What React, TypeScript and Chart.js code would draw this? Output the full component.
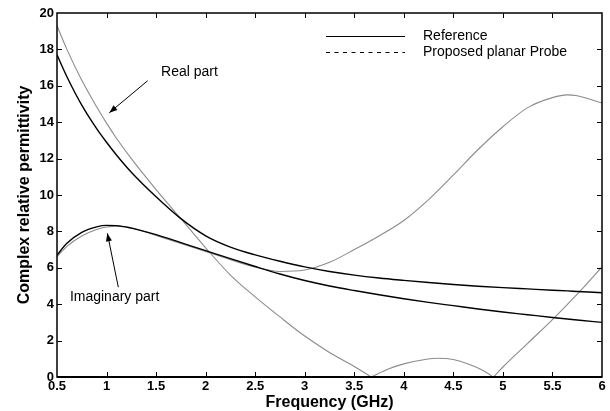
import React, { useEffect, useRef } from "react";
import { Chart, registerables } from "chart.js";

Chart.register(...registerables);

// Frequency grid (GHz) for the smooth curves
const freq = [0.5, 0.6, 0.75, 0.9, 1.0, 1.1, 1.25, 1.5, 1.75, 2.0, 2.25, 2.5, 2.75, 3.0, 3.25, 3.5, 3.75, 4.0, 4.25, 4.5, 4.75, 5.0, 5.25, 5.5, 5.65, 5.75, 6.0];
// Reference (black)
const realRef = [17.7, 16.5, 14.94, 13.65, 12.9, 12.2, 11.25, 9.9, 8.7, 7.76, 7.14, 6.71, 6.36, 6.05, 5.8, 5.6, 5.44, 5.31, 5.19, 5.08, 4.99, 4.91, 4.84, 4.77, 4.73, 4.7, 4.63];
const imagRef = [6.7, 7.35, 7.95, 8.25, 8.33, 8.32, 8.18, 7.82, 7.38, 6.94, 6.5, 6.07, 5.66, 5.3, 5.0, 4.75, 4.52, 4.3, 4.1, 3.92, 3.74, 3.57, 3.42, 3.27, 3.19, 3.13, 3.0];
// Proposed planar probe (grey)
const probeAFreq = [0.5, 0.6, 0.75, 0.9, 1.0, 1.1, 1.25, 1.5, 1.75, 2.0, 2.25, 2.5, 2.75, 3.0, 3.25, 3.5, 3.64, 3.67, 3.7, 3.85, 4.0, 4.2, 4.35, 4.5, 4.65, 4.8, 4.87, 4.9, 4.93, 5.0, 5.25, 5.5, 5.75, 6.0];
const probeA = [19.3, 18.0, 16.3, 14.85, 13.95, 13.12, 12.0, 10.3, 8.7, 7.1, 5.6, 4.4, 3.3, 2.25, 1.35, 0.58, 0.11, 0, 0.08, 0.45, 0.72, 0.95, 1.03, 0.96, 0.72, 0.36, 0.12, 0, 0.15, 0.55, 1.85, 3.15, 4.55, 6.05];
const probeB = [6.6, 7.18, 7.75, 8.1, 8.24, 8.29, 8.2, 7.78, 7.33, 6.9, 6.45, 6.04, 5.8, 5.88, 6.3, 7.0, 7.75, 8.6, 9.75, 11.1, 12.5, 13.75, 14.8, 15.35, 15.5, 15.45, 15.05];

const legendLabels = ["Reference", "Proposed planar Probe"];
const xTitle = "Frequency (GHz)";
const yTitle = "Complex relative permittivity";

// Annotations in data coordinates
const realLabel = { text: "Real part", at: [1.55, 16.74], from: [1.415, 16.28], to: [1.028, 14.52] };
const imagLabel = { text: "Imaginary part", at: [0.63, 4.41], from: [1.119, 4.93], to: [1.008, 7.9] };

const FONT = "Arial, 'Liberation Sans', sans-serif";

const toPts = (xs: number[], ys: number[]) => xs.map((x, i) => ({ x, y: ys[i] }));

const decorPlugin = {
  id: "decor",
  afterDraw(chart: any) {
    const { ctx, chartArea: a, scales } = chart;
    const xs = scales.x;
    const ys = scales.y;
    ctx.save();
    // frame
    ctx.strokeStyle = "#000";
    ctx.lineWidth = 1.5;
    ctx.strokeRect(a.left, a.top, a.right - a.left, a.bottom - a.top);
    ctx.beginPath();
    ctx.lineWidth = 2;
    ctx.moveTo(a.left, a.bottom);
    ctx.lineTo(a.right, a.bottom);
    ctx.stroke();
    // inward ticks on all sides
    ctx.lineWidth = 1;
    const tl = 5;
    ctx.beginPath();
    xs.ticks.forEach((t: any) => {
      const px = Math.round(xs.getPixelForValue(t.value)) + 0.5;
      if (px <= a.left + 2 || px >= a.right - 2) return;
      ctx.moveTo(px, a.bottom);
      ctx.lineTo(px, a.bottom - tl);
      ctx.moveTo(px, a.top);
      ctx.lineTo(px, a.top + tl);
    });
    ys.ticks.forEach((t: any) => {
      const py = Math.round(ys.getPixelForValue(t.value)) + 0.5;
      if (py <= a.top + 2 || py >= a.bottom - 2) return;
      ctx.moveTo(a.left, py);
      ctx.lineTo(a.left + tl, py);
      ctx.moveTo(a.right, py);
      ctx.lineTo(a.right - tl, py);
    });
    ctx.stroke();

    // legend (no box)
    const lx0 = a.right - 276;
    const lx1 = a.right - 197;
    const tx = a.right - 179;
    const rows = [a.top + 23, a.top + 39];
    ctx.font = `14px ${FONT}`;
    ctx.fillStyle = "#000";
    ctx.textBaseline = "middle";
    ctx.textAlign = "left";
    legendLabels.forEach((lab, i) => {
      const y = rows[i] + 0.5;
      ctx.beginPath();
      ctx.lineWidth = 1;
      ctx.setLineDash(i === 0 ? [] : [4, 4.5]);
      ctx.moveTo(lx0, y);
      ctx.lineTo(lx1, y);
      ctx.stroke();
      ctx.setLineDash([]);
      ctx.fillText(lab, tx, rows[i]);
    });

    // annotations with arrows
    const drawArrow = (from: number[], to: number[]) => {
      const x0 = xs.getPixelForValue(from[0]);
      const y0 = ys.getPixelForValue(from[1]);
      const x1 = xs.getPixelForValue(to[0]);
      const y1 = ys.getPixelForValue(to[1]);
      ctx.beginPath();
      ctx.lineWidth = 1;
      ctx.moveTo(x0, y0);
      ctx.lineTo(x1, y1);
      ctx.stroke();
      const ang = Math.atan2(y1 - y0, x1 - x0);
      const L = 8;
      const W = 3;
      ctx.beginPath();
      ctx.moveTo(x1, y1);
      ctx.lineTo(x1 - L * Math.cos(ang) + W * Math.sin(ang), y1 - L * Math.sin(ang) - W * Math.cos(ang));
      ctx.lineTo(x1 - L * Math.cos(ang) - W * Math.sin(ang), y1 - L * Math.sin(ang) + W * Math.cos(ang));
      ctx.closePath();
      ctx.fill();
    };
    [realLabel, imagLabel].forEach((an) => {
      ctx.fillText(an.text, xs.getPixelForValue(an.at[0]), ys.getPixelForValue(an.at[1]));
      drawArrow(an.from, an.to);
    });
    ctx.restore();
  },
};

export default function App() {
  const ref = useRef<HTMLCanvasElement | null>(null);
  useEffect(() => {
    if (!ref.current) return;
    const black = "#000000";
    const grey = "#8c8c8c";
    const fmt = (v: any) => String(Math.round(Number(v) * 100) / 100);
    const chart = new Chart(ref.current, {
      type: "line",
      data: {
        datasets: [
          { label: "Reference real", data: toPts(freq, realRef), borderColor: black, borderWidth: 1.4, pointRadius: 0, cubicInterpolationMode: "monotone", fill: false },
          { label: "Reference imaginary", data: toPts(freq, imagRef), borderColor: black, borderWidth: 1.4, pointRadius: 0, cubicInterpolationMode: "monotone", fill: false },
          { label: "Probe curve A", data: toPts(probeAFreq, probeA), borderColor: grey, borderWidth: 1.1, pointRadius: 0, cubicInterpolationMode: "monotone", fill: false },
          { label: "Probe curve B", data: toPts(freq, probeB), borderColor: grey, borderWidth: 1.1, pointRadius: 0, cubicInterpolationMode: "monotone", fill: false },
        ],
      },
      options: {
        animation: false,
        responsive: false,
        devicePixelRatio: 1,
        layout: { padding: { top: 13, right: 8, left: 0, bottom: 0 } },
        plugins: { legend: { display: false }, tooltip: { enabled: false } },
        scales: {
          x: {
            type: "linear",
            min: 0.5,
            max: 6,
            grid: { display: false, drawTicks: false },
            border: { display: false },
            ticks: { stepSize: 0.5, autoSkip: false, maxRotation: 0, padding: 2, color: "#000", callback: fmt, font: { family: FONT, size: 13, weight: "bold" } },
            title: { display: true, text: xTitle, color: "#000", padding: { top: 0, bottom: 0 }, font: { family: FONT, size: 16, weight: "bold", lineHeight: 1 } },
            afterFit: (s: any) => { s.height = 34; },
          },
          y: {
            type: "linear",
            min: 0,
            max: 20,
            grid: { display: false, drawTicks: false },
            border: { display: false },
            ticks: { stepSize: 2, padding: 3, color: "#000", callback: fmt, font: { family: FONT, size: 13, weight: "bold" } },
            title: { display: true, text: yTitle, color: "#000", padding: { top: 17, bottom: 0 }, font: { family: FONT, size: 16, weight: "bold", lineHeight: 1 } },
            afterFit: (s: any) => { s.width = 57; },
          },
        },
      },
      plugins: [decorPlugin],
    } as any);
    return () => chart.destroy();
  }, []);
  return (
    <div style={{ position: "absolute", left: 0, top: 0, width: 610, height: 411, background: "#fff" }}>
      <canvas ref={ref} width={610} height={411} />
    </div>
  );
}
